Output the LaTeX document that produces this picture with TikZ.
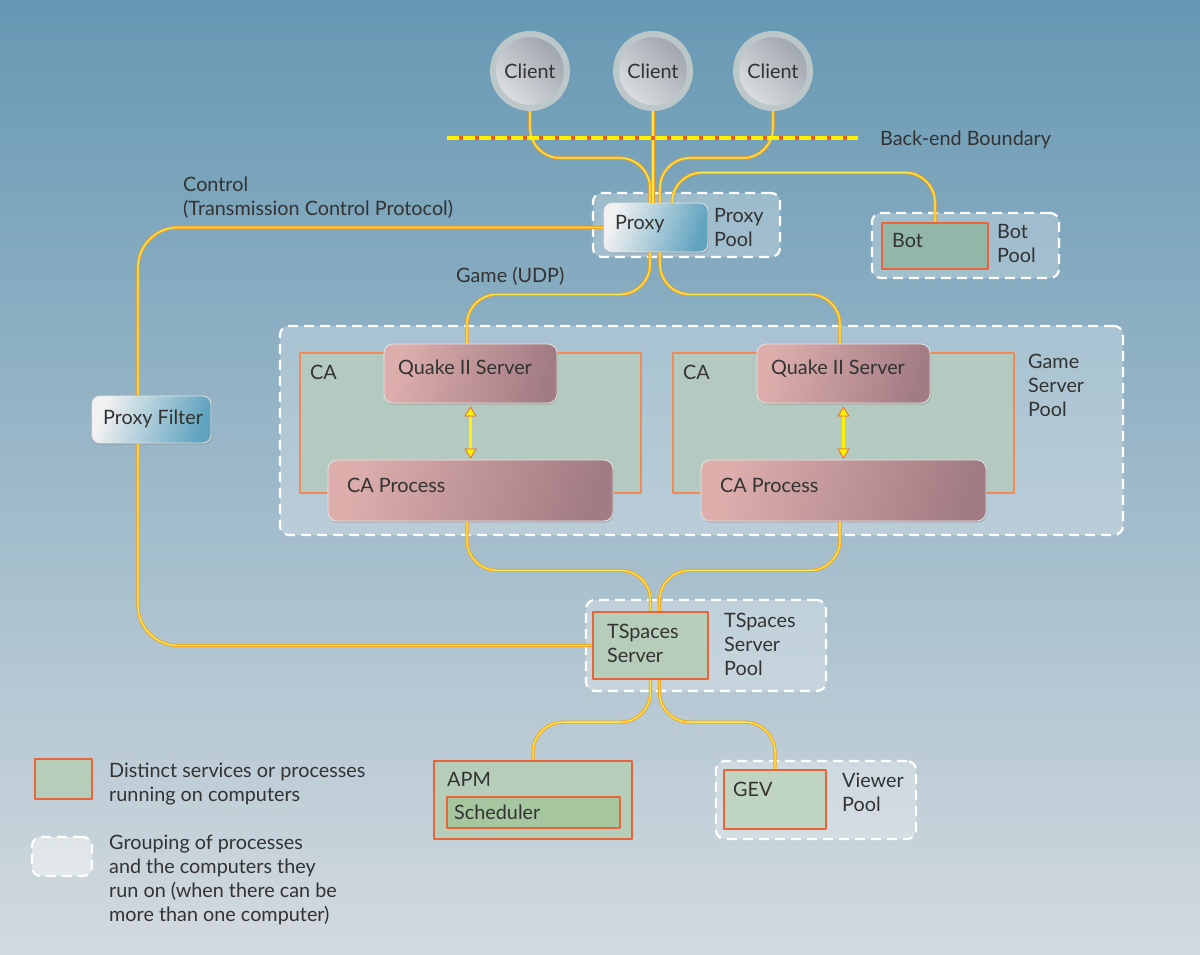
\documentclass[tikz,border=0pt]{standalone}
\usepackage{fontspec}
\setmainfont{Lato}
\usetikzlibrary{arrows.meta,positioning,shadows}

\definecolor{bgtop}{HTML}{6698B3}
\definecolor{bgbot}{HTML}{D3DADF}
\definecolor{ink}{HTML}{333333}
\definecolor{edgered}{HTML}{E8643A}
\definecolor{caedge}{HTML}{F08A58}
\definecolor{procfill}{HTML}{B5CDB9}
\definecolor{botfill}{HTML}{92B7A9}
\definecolor{cafill}{HTML}{B4CAC0}
\definecolor{schedfill}{HTML}{A6C6A0}
\definecolor{gevfill}{HTML}{C0D4C2}
\definecolor{wireor}{HTML}{F5A21E}
\definecolor{wireye}{HTML}{FFE94A}
\definecolor{bndye}{HTML}{FFF200}
\definecolor{bndor}{HTML}{EE5A2C}
\definecolor{pinkhi}{HTML}{F2C6BE}
\definecolor{pinklo}{HTML}{DDAEAC}
\definecolor{mauve}{HTML}{A27C84}
\definecolor{glassblue}{HTML}{5FA3BF}
\definecolor{ringgray}{HTML}{BCC7C9}
\definecolor{discdark}{HTML}{9EA4AC}
\definecolor{disclight}{HTML}{DCDFE2}

\tikzset{
    every node/.style={text=ink,font=\fontsize{19.8}{24}\selectfont},
    txt/.style={anchor=north west,inner sep=0pt,align=left,execute at begin node=\strut},% text placed by its first baseline
    wire/.style={draw=wireor,line width=0.9pt,double=wireye,double distance=1.3pt,rounded corners=30pt},
    pool/.style={rectangle,draw=white,line width=2.2pt,dash pattern=on 10pt off 6pt,fill=white,fill opacity=0.25,rounded corners=9pt,inner sep=0pt},
    proc/.style={rectangle,draw=edgered,line width=2.2pt,fill=procfill,inner sep=0pt},
    cabox/.style={rectangle,draw=caedge,line width=1.8pt,fill=cafill,inner sep=0pt},
    glass/.style={rectangle,rounded corners=8pt,draw=white!80!gray,line width=0.8pt,left color=white!90!gray,middle color=white!80!glassblue,right color=glassblue,shading angle=70,drop shadow={opacity=0.4,shadow xshift=0.8pt,shadow yshift=-1.6pt},inner sep=0pt},
    blush/.style={rectangle,rounded corners=9pt,draw=white!80!gray,line width=0.8pt,left color=pinklo,middle color=pinkhi,right color=mauve,shading angle=75,drop shadow={opacity=0.4,shadow xshift=0.8pt,shadow yshift=-1.6pt},inner sep=0pt},
    client/.style={circle,minimum size=74pt,inner sep=0pt,draw=ringgray,line width=6pt,top color=discdark,middle color=white,bottom color=disclight,shading angle=-45},
    bndbase/.style={draw=bndor,line width=3.5pt},
    bnddash/.style={draw=bndye,line width=3.5pt,dash pattern=on 12pt off 4pt},
    biarrow/.style={<->,>={Triangle[length=10pt,width=12pt,fill=bndye]},draw=bndor,line width=0.7pt,double=bndye,double distance=2.4pt,shorten <=3pt,shorten >=1pt}
}

\begin{document}
\begin{tikzpicture}[x=1pt,y=-1pt,line join=round]
\shade[top color=bgtop,bottom color=bgbot] (0,0) rectangle (1200,954);

% pools
\node[pool,minimum width=187pt,minimum height=64pt] (pp) at (686.5,225) {};
\node[pool,minimum width=187pt,minimum height=65pt] (bp) at (965.5,245.5) {};
\node[pool,minimum width=843pt,minimum height=209pt] (gsp) at (701.5,430.5) {};
\node[pool,minimum width=240pt,minimum height=91pt] (tsp) at (706,645.5) {};
\node[pool,minimum width=200pt,minimum height=78pt] (vp) at (816,800) {};

\foreach \n/\cx in {1/530,2/653,3/773}
  \node[client] (cl\n) at (\cx,71) {Client};

\node[glass,minimum width=104pt,minimum height=49pt] (proxy) at (656,227.5) {};
\node[proc,fill=botfill,minimum width=106pt,minimum height=46pt] (bot) at (935,246) {};
\node[glass,minimum width=119pt,minimum height=47pt] (pf) at (151.5,419.5) {};

\foreach \i/\cx in {1/470.5,2/843.5}{
  \node[cabox,minimum width=341pt,minimum height=140pt] (ca\i) at (\cx,423) {};
  \node[blush,minimum width=173pt,minimum height=59pt] (qs\i) at (\cx,373.5) {};
  \node[blush,minimum width=285pt,minimum height=61pt] (cp\i) at (\cx,490.5) {};
  \node[txt] (tca\i) at (\cx-160.5,362) {CA};
  \node[txt] (tqs\i) at (\cx-72.5,357) {Quake II Server};
  \node[txt] (tcp\i) at (\cx-123.5,475) {CA Process};
  \draw[biarrow] (qs\i) -- (cp\i);
}

\node[proc,minimum width=115pt,minimum height=67pt] (ts) at (650.5,645.5) {};
\node[proc,minimum width=198pt,minimum height=78pt] (apm) at (533,800) {};
\node[proc,fill=schedfill,minimum width=173pt,minimum height=31pt] (sch) at (533.5,812.5) {};
\node[proc,fill=gevfill,minimum width=102pt,minimum height=59pt] (gev) at (775,799.5) {};

% connections
\draw[wire] (cl1.south) -- ++(0,47) -| ([xshift=-6pt]proxy.north);
\draw[wire] (cl2.south) -- (cl2.south |- proxy.north);
\draw[wire] (cl3.south) -- ++(0,47) -| ([xshift=4pt]proxy.north);
\draw[wire] ([xshift=16pt]proxy.north) -- ++(0,-30) -| (bot.north);
\draw[wire,rounded corners=40pt] (proxy.west) -| ([xshift=-13.5pt]pf.north);
\draw[wire,rounded corners=40pt] ([xshift=-13.5pt]pf.south) |- (ts.west);
\draw[wire] ([xshift=-6pt]proxy.south) -- ++(0,42) -| ([xshift=-3.5pt]qs1.north);
\draw[wire] ([xshift=4pt]proxy.south) -- ++(0,42) -| ([xshift=-3.5pt]qs2.north);
\draw[wire] ([xshift=-3.5pt]cp1.south) -- ++(0,49) -| (ts.north);
\draw[wire] ([xshift=-3.5pt]cp2.south) -- ++(0,49) -| ([xshift=9pt]ts.north);
\draw[wire] (ts.south) -- ++(0,42) -| (apm.north);
\draw[wire] ([xshift=9pt]ts.south) -- ++(0,42) -| (gev.north);

\coordinate (bl) at (447,138);
\coordinate (br) at (858,138);
\draw[bndbase] (bl) -- (br);
\draw[bnddash] (bl) -- (br);

% labels
\node[txt] (tbnd) at (880,128) {Back-end Boundary};
\node[txt] (tctl) at (183,177) {Control\\(Transmission Control Protocol)};
\node[txt] (tgame) at (456,265) {Game (UDP)};
\node[txt] (tproxy) at (615,212) {Proxy};
\node[txt] (tpp) at (714,208) {Proxy\\Pool};
\node[txt] (tbot) at (892,230) {Bot};
\node[txt] (tbp) at (997,224) {Bot\\Pool};
\node[txt] (tpf) at (103,407) {Proxy Filter};
\node[txt] (tgsp) at (1028,354) {Game\\Server\\Pool};
\node[txt] (tts) at (607,624) {TSpaces\\Server};
\node[txt] (ttsp) at (724,613) {TSpaces\\Server\\Pool};
\node[txt] (tapm) at (447,769) {APM};
\node[txt] (tsch) at (454,802) {Scheduler};
\node[txt] (tgev) at (733,779) {GEV};
\node[txt] (tvp) at (842,773) {Viewer\\Pool};

% legend
\node[proc,minimum width=57pt,minimum height=40pt] (lgproc) at (63.5,779) {};
\node[txt] (tlgproc) at (109,763) {Distinct services or processes\\running on computers};
\node[pool,fill opacity=0.45,minimum width=60pt,minimum height=39pt] (lgpool) at (62,856.5) {};
\node[txt] (tlgpool) at (109,835) {Grouping of processes\\and the computers they\\run on (when there can be\\more than one computer)};
\end{tikzpicture}
\end{document}
